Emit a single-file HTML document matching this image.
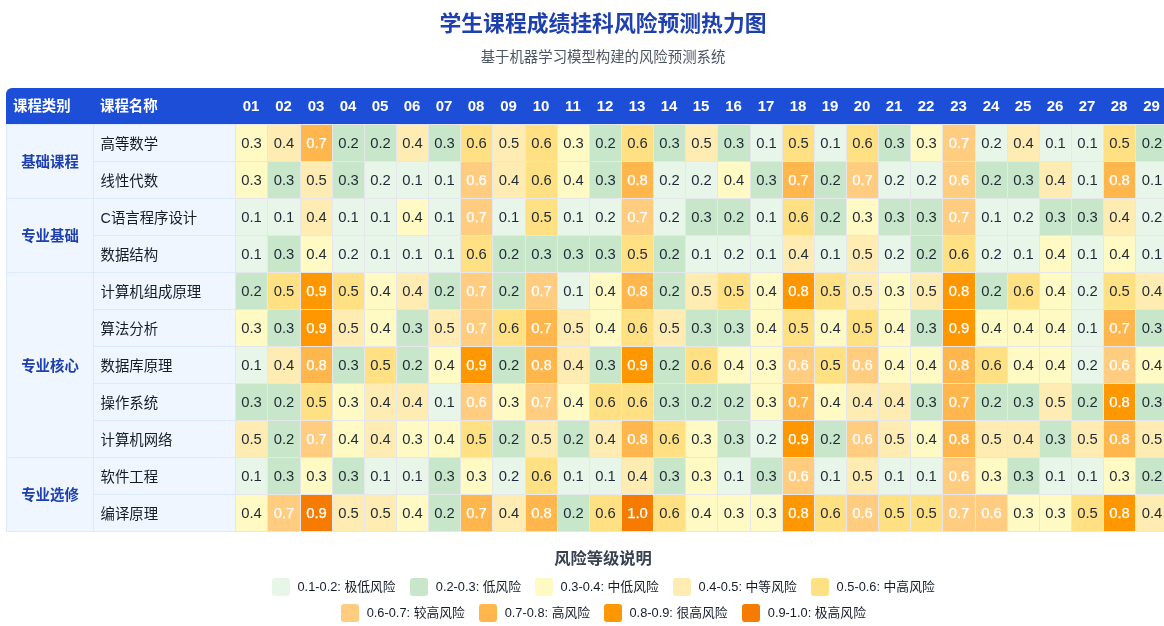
<!DOCTYPE html>
<html lang="zh-CN">
<head>
<meta charset="utf-8">
<title>学生课程成绩挂科风险预测热力图</title>
<style>
*{box-sizing:border-box;margin:0;padding:0}
html,body{width:1164px;height:626px;overflow:hidden;background:#fff}
body{position:relative;font-family:"Liberation Sans","Noto Sans CJK SC",sans-serif;color:#1f2937}
.abs{position:absolute}
h1{position:absolute;left:6px;width:1194px;top:9px;height:30px;line-height:30px;text-align:center;font-size:21.8px;font-weight:700;color:#1e40af;white-space:nowrap}
.sub{position:absolute;left:6px;width:1194px;top:47px;height:20px;line-height:20px;text-align:center;font-size:14.4px;color:#4b5563;white-space:nowrap}
.hd{position:absolute;left:6px;top:88px;width:1200px;height:36px;background:#1d4ed8;border-radius:6px 6px 0 0}
.th{position:absolute;top:88px;height:36px;line-height:36px;color:#fff;font-weight:700;white-space:nowrap}
.th.l{font-size:14.4px;padding-left:7px}
.th.n{font-size:15px;text-align:center;line-height:36px}
.cat{position:absolute;left:6px;width:87px;background:#eff6ff;border-left:1px solid #dbeafe;border-top:1px solid #dbeafe;color:#1e40af;font-weight:700;font-size:14.4px;display:flex;align-items:center;justify-content:center;white-space:nowrap;padding-bottom:2px}
.nm{position:absolute;left:93px;width:142px;height:37px;line-height:38px;overflow:hidden;background:#eff6ff;border-top:1px solid #dbeafe;border-left:1px solid #dbeafe;padding-left:6.5px;font-size:14.4px;color:#161c28;white-space:nowrap}
.c{position:absolute;width:32.14px;height:37px;line-height:36px;text-align:center;font-size:14.8px;color:#1f2937;border-left:1px solid #e5e7eb;border-top:1px solid #e5e7eb;white-space:nowrap}
.w{color:#fff;-webkit-text-stroke:0.25px #fff}
.bl{position:absolute;top:531px;height:1px}
.L1{background:#e8f5e9}.L2{background:#c8e6c9}.L3{background:#fff9c4}.L4{background:#ffecb3}.L5{background:#ffe082}
.L6{background:#ffcc80}.L7{background:#ffb74d}.L8{background:#ff9800}.L9{background:#f57c00}
.lt{position:absolute;left:6px;width:1194px;top:546px;height:24px;line-height:24px;text-align:center;font-size:16.3px;font-weight:700;color:#374151}
.sw{position:absolute;width:18px;height:18px;border-radius:3px}
.lb{position:absolute;height:18px;line-height:18px;font-size:12.8px;color:#161c28;white-space:nowrap}
</style>
</head>
<body>
<h1>学生课程成绩挂科风险预测热力图</h1>
<div class="sub">基于机器学习模型构建的风险预测系统</div>
<div class="hd"></div>

<div class="th l" style="left:6.0px">课程类别</div>
<div class="th l" style="left:93.0px">课程名称</div>
<div class="th n" style="left:235px;width:32px">01</div>
<div class="th n" style="left:267px;width:33px">02</div>
<div class="th n" style="left:300px;width:32px">03</div>
<div class="th n" style="left:332px;width:32px">04</div>
<div class="th n" style="left:364px;width:32px">05</div>
<div class="th n" style="left:396px;width:32px">06</div>
<div class="th n" style="left:428px;width:32px">07</div>
<div class="th n" style="left:460px;width:32px">08</div>
<div class="th n" style="left:492px;width:33px">09</div>
<div class="th n" style="left:525px;width:32px">10</div>
<div class="th n" style="left:557px;width:32px">11</div>
<div class="th n" style="left:589px;width:32px">12</div>
<div class="th n" style="left:621px;width:32px">13</div>
<div class="th n" style="left:653px;width:32px">14</div>
<div class="th n" style="left:685px;width:32px">15</div>
<div class="th n" style="left:717px;width:33px">16</div>
<div class="th n" style="left:750px;width:32px">17</div>
<div class="th n" style="left:782px;width:32px">18</div>
<div class="th n" style="left:814px;width:32px">19</div>
<div class="th n" style="left:846px;width:32px">20</div>
<div class="th n" style="left:878px;width:32px">21</div>
<div class="th n" style="left:910px;width:32px">22</div>
<div class="th n" style="left:942px;width:33px">23</div>
<div class="th n" style="left:975px;width:32px">24</div>
<div class="th n" style="left:1007px;width:32px">25</div>
<div class="th n" style="left:1039px;width:32px">26</div>
<div class="th n" style="left:1071px;width:32px">27</div>
<div class="th n" style="left:1103px;width:32px">28</div>
<div class="th n" style="left:1135px;width:33px">29</div>

<div class="cat" style="top:124px;height:74px">基础课程</div>
<div class="cat" style="top:198px;height:74px">专业基础</div>
<div class="cat" style="top:272px;height:185px">专业核心</div>
<div class="cat" style="top:457px;height:74px">专业选修</div>
<div class="nm" style="top:124px">高等数学</div>
<div class="c L3" style="left:235px;width:32px;top:124px">0.3</div>
<div class="c L4" style="left:267px;width:33px;top:124px">0.4</div>
<div class="c L7 w" style="left:300px;width:32px;top:124px">0.7</div>
<div class="c L2" style="left:332px;width:32px;top:124px">0.2</div>
<div class="c L2" style="left:364px;width:32px;top:124px">0.2</div>
<div class="c L4" style="left:396px;width:32px;top:124px">0.4</div>
<div class="c L2" style="left:428px;width:32px;top:124px">0.3</div>
<div class="c L5" style="left:460px;width:32px;top:124px">0.6</div>
<div class="c L4" style="left:492px;width:33px;top:124px">0.5</div>
<div class="c L5" style="left:525px;width:32px;top:124px">0.6</div>
<div class="c L3" style="left:557px;width:32px;top:124px">0.3</div>
<div class="c L2" style="left:589px;width:32px;top:124px">0.2</div>
<div class="c L5" style="left:621px;width:32px;top:124px">0.6</div>
<div class="c L2" style="left:653px;width:32px;top:124px">0.3</div>
<div class="c L4" style="left:685px;width:32px;top:124px">0.5</div>
<div class="c L2" style="left:717px;width:33px;top:124px">0.3</div>
<div class="c L1" style="left:750px;width:32px;top:124px">0.1</div>
<div class="c L5" style="left:782px;width:32px;top:124px">0.5</div>
<div class="c L1" style="left:814px;width:32px;top:124px">0.1</div>
<div class="c L5" style="left:846px;width:32px;top:124px">0.6</div>
<div class="c L2" style="left:878px;width:32px;top:124px">0.3</div>
<div class="c L3" style="left:910px;width:32px;top:124px">0.3</div>
<div class="c L6 w" style="left:942px;width:33px;top:124px">0.7</div>
<div class="c L1" style="left:975px;width:32px;top:124px">0.2</div>
<div class="c L4" style="left:1007px;width:32px;top:124px">0.4</div>
<div class="c L1" style="left:1039px;width:32px;top:124px">0.1</div>
<div class="c L1" style="left:1071px;width:32px;top:124px">0.1</div>
<div class="c L5" style="left:1103px;width:32px;top:124px">0.5</div>
<div class="c L2" style="left:1135px;width:33px;top:124px">0.2</div>
<div class="nm" style="top:161px">线性代数</div>
<div class="c L3" style="left:235px;width:32px;top:161px">0.3</div>
<div class="c L2" style="left:267px;width:33px;top:161px">0.3</div>
<div class="c L4" style="left:300px;width:32px;top:161px">0.5</div>
<div class="c L2" style="left:332px;width:32px;top:161px">0.3</div>
<div class="c L1" style="left:364px;width:32px;top:161px">0.2</div>
<div class="c L1" style="left:396px;width:32px;top:161px">0.1</div>
<div class="c L1" style="left:428px;width:32px;top:161px">0.1</div>
<div class="c L6 w" style="left:460px;width:32px;top:161px">0.6</div>
<div class="c L4" style="left:492px;width:33px;top:161px">0.4</div>
<div class="c L5" style="left:525px;width:32px;top:161px">0.6</div>
<div class="c L3" style="left:557px;width:32px;top:161px">0.4</div>
<div class="c L2" style="left:589px;width:32px;top:161px">0.3</div>
<div class="c L7 w" style="left:621px;width:32px;top:161px">0.8</div>
<div class="c L1" style="left:653px;width:32px;top:161px">0.2</div>
<div class="c L1" style="left:685px;width:32px;top:161px">0.2</div>
<div class="c L3" style="left:717px;width:33px;top:161px">0.4</div>
<div class="c L2" style="left:750px;width:32px;top:161px">0.3</div>
<div class="c L7 w" style="left:782px;width:32px;top:161px">0.7</div>
<div class="c L2" style="left:814px;width:32px;top:161px">0.2</div>
<div class="c L6 w" style="left:846px;width:32px;top:161px">0.7</div>
<div class="c L1" style="left:878px;width:32px;top:161px">0.2</div>
<div class="c L1" style="left:910px;width:32px;top:161px">0.2</div>
<div class="c L6 w" style="left:942px;width:33px;top:161px">0.6</div>
<div class="c L2" style="left:975px;width:32px;top:161px">0.2</div>
<div class="c L2" style="left:1007px;width:32px;top:161px">0.3</div>
<div class="c L4" style="left:1039px;width:32px;top:161px">0.4</div>
<div class="c L1" style="left:1071px;width:32px;top:161px">0.1</div>
<div class="c L7 w" style="left:1103px;width:32px;top:161px">0.8</div>
<div class="c L1" style="left:1135px;width:33px;top:161px">0.1</div>
<div class="nm" style="top:198px">C语言程序设计</div>
<div class="c L1" style="left:235px;width:32px;top:198px">0.1</div>
<div class="c L1" style="left:267px;width:33px;top:198px">0.1</div>
<div class="c L4" style="left:300px;width:32px;top:198px">0.4</div>
<div class="c L1" style="left:332px;width:32px;top:198px">0.1</div>
<div class="c L1" style="left:364px;width:32px;top:198px">0.1</div>
<div class="c L3" style="left:396px;width:32px;top:198px">0.4</div>
<div class="c L1" style="left:428px;width:32px;top:198px">0.1</div>
<div class="c L6 w" style="left:460px;width:32px;top:198px">0.7</div>
<div class="c L1" style="left:492px;width:33px;top:198px">0.1</div>
<div class="c L5" style="left:525px;width:32px;top:198px">0.5</div>
<div class="c L1" style="left:557px;width:32px;top:198px">0.1</div>
<div class="c L1" style="left:589px;width:32px;top:198px">0.2</div>
<div class="c L6 w" style="left:621px;width:32px;top:198px">0.7</div>
<div class="c L1" style="left:653px;width:32px;top:198px">0.2</div>
<div class="c L2" style="left:685px;width:32px;top:198px">0.3</div>
<div class="c L2" style="left:717px;width:33px;top:198px">0.2</div>
<div class="c L1" style="left:750px;width:32px;top:198px">0.1</div>
<div class="c L5" style="left:782px;width:32px;top:198px">0.6</div>
<div class="c L2" style="left:814px;width:32px;top:198px">0.2</div>
<div class="c L3" style="left:846px;width:32px;top:198px">0.3</div>
<div class="c L2" style="left:878px;width:32px;top:198px">0.3</div>
<div class="c L2" style="left:910px;width:32px;top:198px">0.3</div>
<div class="c L6 w" style="left:942px;width:33px;top:198px">0.7</div>
<div class="c L1" style="left:975px;width:32px;top:198px">0.1</div>
<div class="c L1" style="left:1007px;width:32px;top:198px">0.2</div>
<div class="c L2" style="left:1039px;width:32px;top:198px">0.3</div>
<div class="c L2" style="left:1071px;width:32px;top:198px">0.3</div>
<div class="c L4" style="left:1103px;width:32px;top:198px">0.4</div>
<div class="c L1" style="left:1135px;width:33px;top:198px">0.2</div>
<div class="nm" style="top:235px">数据结构</div>
<div class="c L1" style="left:235px;width:32px;top:235px">0.1</div>
<div class="c L2" style="left:267px;width:33px;top:235px">0.3</div>
<div class="c L3" style="left:300px;width:32px;top:235px">0.4</div>
<div class="c L1" style="left:332px;width:32px;top:235px">0.2</div>
<div class="c L1" style="left:364px;width:32px;top:235px">0.1</div>
<div class="c L1" style="left:396px;width:32px;top:235px">0.1</div>
<div class="c L1" style="left:428px;width:32px;top:235px">0.1</div>
<div class="c L5" style="left:460px;width:32px;top:235px">0.6</div>
<div class="c L2" style="left:492px;width:33px;top:235px">0.2</div>
<div class="c L2" style="left:525px;width:32px;top:235px">0.3</div>
<div class="c L2" style="left:557px;width:32px;top:235px">0.3</div>
<div class="c L2" style="left:589px;width:32px;top:235px">0.3</div>
<div class="c L5" style="left:621px;width:32px;top:235px">0.5</div>
<div class="c L2" style="left:653px;width:32px;top:235px">0.2</div>
<div class="c L1" style="left:685px;width:32px;top:235px">0.1</div>
<div class="c L1" style="left:717px;width:33px;top:235px">0.2</div>
<div class="c L1" style="left:750px;width:32px;top:235px">0.1</div>
<div class="c L4" style="left:782px;width:32px;top:235px">0.4</div>
<div class="c L1" style="left:814px;width:32px;top:235px">0.1</div>
<div class="c L4" style="left:846px;width:32px;top:235px">0.5</div>
<div class="c L1" style="left:878px;width:32px;top:235px">0.2</div>
<div class="c L2" style="left:910px;width:32px;top:235px">0.2</div>
<div class="c L5" style="left:942px;width:33px;top:235px">0.6</div>
<div class="c L1" style="left:975px;width:32px;top:235px">0.2</div>
<div class="c L1" style="left:1007px;width:32px;top:235px">0.1</div>
<div class="c L3" style="left:1039px;width:32px;top:235px">0.4</div>
<div class="c L1" style="left:1071px;width:32px;top:235px">0.1</div>
<div class="c L3" style="left:1103px;width:32px;top:235px">0.4</div>
<div class="c L1" style="left:1135px;width:33px;top:235px">0.1</div>
<div class="nm" style="top:272px">计算机组成原理</div>
<div class="c L2" style="left:235px;width:32px;top:272px">0.2</div>
<div class="c L5" style="left:267px;width:33px;top:272px">0.5</div>
<div class="c L8 w" style="left:300px;width:32px;top:272px">0.9</div>
<div class="c L5" style="left:332px;width:32px;top:272px">0.5</div>
<div class="c L3" style="left:364px;width:32px;top:272px">0.4</div>
<div class="c L4" style="left:396px;width:32px;top:272px">0.4</div>
<div class="c L2" style="left:428px;width:32px;top:272px">0.2</div>
<div class="c L6 w" style="left:460px;width:32px;top:272px">0.7</div>
<div class="c L2" style="left:492px;width:33px;top:272px">0.2</div>
<div class="c L6 w" style="left:525px;width:32px;top:272px">0.7</div>
<div class="c L1" style="left:557px;width:32px;top:272px">0.1</div>
<div class="c L3" style="left:589px;width:32px;top:272px">0.4</div>
<div class="c L7 w" style="left:621px;width:32px;top:272px">0.8</div>
<div class="c L2" style="left:653px;width:32px;top:272px">0.2</div>
<div class="c L4" style="left:685px;width:32px;top:272px">0.5</div>
<div class="c L5" style="left:717px;width:33px;top:272px">0.5</div>
<div class="c L3" style="left:750px;width:32px;top:272px">0.4</div>
<div class="c L8 w" style="left:782px;width:32px;top:272px">0.8</div>
<div class="c L5" style="left:814px;width:32px;top:272px">0.5</div>
<div class="c L4" style="left:846px;width:32px;top:272px">0.5</div>
<div class="c L3" style="left:878px;width:32px;top:272px">0.3</div>
<div class="c L4" style="left:910px;width:32px;top:272px">0.5</div>
<div class="c L8 w" style="left:942px;width:33px;top:272px">0.8</div>
<div class="c L2" style="left:975px;width:32px;top:272px">0.2</div>
<div class="c L5" style="left:1007px;width:32px;top:272px">0.6</div>
<div class="c L3" style="left:1039px;width:32px;top:272px">0.4</div>
<div class="c L1" style="left:1071px;width:32px;top:272px">0.2</div>
<div class="c L5" style="left:1103px;width:32px;top:272px">0.5</div>
<div class="c L4" style="left:1135px;width:33px;top:272px">0.4</div>
<div class="nm" style="top:309px">算法分析</div>
<div class="c L3" style="left:235px;width:32px;top:309px">0.3</div>
<div class="c L2" style="left:267px;width:33px;top:309px">0.3</div>
<div class="c L8 w" style="left:300px;width:32px;top:309px">0.9</div>
<div class="c L4" style="left:332px;width:32px;top:309px">0.5</div>
<div class="c L3" style="left:364px;width:32px;top:309px">0.4</div>
<div class="c L2" style="left:396px;width:32px;top:309px">0.3</div>
<div class="c L4" style="left:428px;width:32px;top:309px">0.5</div>
<div class="c L6 w" style="left:460px;width:32px;top:309px">0.7</div>
<div class="c L5" style="left:492px;width:33px;top:309px">0.6</div>
<div class="c L7 w" style="left:525px;width:32px;top:309px">0.7</div>
<div class="c L4" style="left:557px;width:32px;top:309px">0.5</div>
<div class="c L3" style="left:589px;width:32px;top:309px">0.4</div>
<div class="c L5" style="left:621px;width:32px;top:309px">0.6</div>
<div class="c L4" style="left:653px;width:32px;top:309px">0.5</div>
<div class="c L2" style="left:685px;width:32px;top:309px">0.3</div>
<div class="c L2" style="left:717px;width:33px;top:309px">0.3</div>
<div class="c L3" style="left:750px;width:32px;top:309px">0.4</div>
<div class="c L5" style="left:782px;width:32px;top:309px">0.5</div>
<div class="c L3" style="left:814px;width:32px;top:309px">0.4</div>
<div class="c L5" style="left:846px;width:32px;top:309px">0.5</div>
<div class="c L3" style="left:878px;width:32px;top:309px">0.4</div>
<div class="c L2" style="left:910px;width:32px;top:309px">0.3</div>
<div class="c L8 w" style="left:942px;width:33px;top:309px">0.9</div>
<div class="c L3" style="left:975px;width:32px;top:309px">0.4</div>
<div class="c L3" style="left:1007px;width:32px;top:309px">0.4</div>
<div class="c L3" style="left:1039px;width:32px;top:309px">0.4</div>
<div class="c L1" style="left:1071px;width:32px;top:309px">0.1</div>
<div class="c L7 w" style="left:1103px;width:32px;top:309px">0.7</div>
<div class="c L2" style="left:1135px;width:33px;top:309px">0.3</div>
<div class="nm" style="top:346px">数据库原理</div>
<div class="c L1" style="left:235px;width:32px;top:346px">0.1</div>
<div class="c L4" style="left:267px;width:33px;top:346px">0.4</div>
<div class="c L7 w" style="left:300px;width:32px;top:346px">0.8</div>
<div class="c L2" style="left:332px;width:32px;top:346px">0.3</div>
<div class="c L5" style="left:364px;width:32px;top:346px">0.5</div>
<div class="c L2" style="left:396px;width:32px;top:346px">0.2</div>
<div class="c L3" style="left:428px;width:32px;top:346px">0.4</div>
<div class="c L8 w" style="left:460px;width:32px;top:346px">0.9</div>
<div class="c L2" style="left:492px;width:33px;top:346px">0.2</div>
<div class="c L7 w" style="left:525px;width:32px;top:346px">0.8</div>
<div class="c L4" style="left:557px;width:32px;top:346px">0.4</div>
<div class="c L2" style="left:589px;width:32px;top:346px">0.3</div>
<div class="c L8 w" style="left:621px;width:32px;top:346px">0.9</div>
<div class="c L2" style="left:653px;width:32px;top:346px">0.2</div>
<div class="c L5" style="left:685px;width:32px;top:346px">0.6</div>
<div class="c L3" style="left:717px;width:33px;top:346px">0.4</div>
<div class="c L3" style="left:750px;width:32px;top:346px">0.3</div>
<div class="c L6 w" style="left:782px;width:32px;top:346px">0.6</div>
<div class="c L5" style="left:814px;width:32px;top:346px">0.5</div>
<div class="c L6 w" style="left:846px;width:32px;top:346px">0.6</div>
<div class="c L3" style="left:878px;width:32px;top:346px">0.4</div>
<div class="c L3" style="left:910px;width:32px;top:346px">0.4</div>
<div class="c L7 w" style="left:942px;width:33px;top:346px">0.8</div>
<div class="c L5" style="left:975px;width:32px;top:346px">0.6</div>
<div class="c L3" style="left:1007px;width:32px;top:346px">0.4</div>
<div class="c L3" style="left:1039px;width:32px;top:346px">0.4</div>
<div class="c L1" style="left:1071px;width:32px;top:346px">0.2</div>
<div class="c L6 w" style="left:1103px;width:32px;top:346px">0.6</div>
<div class="c L3" style="left:1135px;width:33px;top:346px">0.4</div>
<div class="nm" style="top:383px">操作系统</div>
<div class="c L2" style="left:235px;width:32px;top:383px">0.3</div>
<div class="c L2" style="left:267px;width:33px;top:383px">0.2</div>
<div class="c L5" style="left:300px;width:32px;top:383px">0.5</div>
<div class="c L3" style="left:332px;width:32px;top:383px">0.3</div>
<div class="c L4" style="left:364px;width:32px;top:383px">0.4</div>
<div class="c L4" style="left:396px;width:32px;top:383px">0.4</div>
<div class="c L1" style="left:428px;width:32px;top:383px">0.1</div>
<div class="c L6 w" style="left:460px;width:32px;top:383px">0.6</div>
<div class="c L3" style="left:492px;width:33px;top:383px">0.3</div>
<div class="c L6 w" style="left:525px;width:32px;top:383px">0.7</div>
<div class="c L3" style="left:557px;width:32px;top:383px">0.4</div>
<div class="c L5" style="left:589px;width:32px;top:383px">0.6</div>
<div class="c L5" style="left:621px;width:32px;top:383px">0.6</div>
<div class="c L2" style="left:653px;width:32px;top:383px">0.3</div>
<div class="c L2" style="left:685px;width:32px;top:383px">0.2</div>
<div class="c L2" style="left:717px;width:33px;top:383px">0.2</div>
<div class="c L3" style="left:750px;width:32px;top:383px">0.3</div>
<div class="c L7 w" style="left:782px;width:32px;top:383px">0.7</div>
<div class="c L3" style="left:814px;width:32px;top:383px">0.4</div>
<div class="c L4" style="left:846px;width:32px;top:383px">0.4</div>
<div class="c L4" style="left:878px;width:32px;top:383px">0.4</div>
<div class="c L2" style="left:910px;width:32px;top:383px">0.3</div>
<div class="c L7 w" style="left:942px;width:33px;top:383px">0.7</div>
<div class="c L2" style="left:975px;width:32px;top:383px">0.2</div>
<div class="c L2" style="left:1007px;width:32px;top:383px">0.3</div>
<div class="c L4" style="left:1039px;width:32px;top:383px">0.5</div>
<div class="c L2" style="left:1071px;width:32px;top:383px">0.2</div>
<div class="c L8 w" style="left:1103px;width:32px;top:383px">0.8</div>
<div class="c L2" style="left:1135px;width:33px;top:383px">0.3</div>
<div class="nm" style="top:420px">计算机网络</div>
<div class="c L4" style="left:235px;width:32px;top:420px">0.5</div>
<div class="c L2" style="left:267px;width:33px;top:420px">0.2</div>
<div class="c L6 w" style="left:300px;width:32px;top:420px">0.7</div>
<div class="c L3" style="left:332px;width:32px;top:420px">0.4</div>
<div class="c L4" style="left:364px;width:32px;top:420px">0.4</div>
<div class="c L3" style="left:396px;width:32px;top:420px">0.3</div>
<div class="c L3" style="left:428px;width:32px;top:420px">0.4</div>
<div class="c L5" style="left:460px;width:32px;top:420px">0.5</div>
<div class="c L2" style="left:492px;width:33px;top:420px">0.2</div>
<div class="c L4" style="left:525px;width:32px;top:420px">0.5</div>
<div class="c L2" style="left:557px;width:32px;top:420px">0.2</div>
<div class="c L4" style="left:589px;width:32px;top:420px">0.4</div>
<div class="c L7 w" style="left:621px;width:32px;top:420px">0.8</div>
<div class="c L5" style="left:653px;width:32px;top:420px">0.6</div>
<div class="c L3" style="left:685px;width:32px;top:420px">0.3</div>
<div class="c L2" style="left:717px;width:33px;top:420px">0.3</div>
<div class="c L1" style="left:750px;width:32px;top:420px">0.2</div>
<div class="c L8 w" style="left:782px;width:32px;top:420px">0.9</div>
<div class="c L2" style="left:814px;width:32px;top:420px">0.2</div>
<div class="c L6 w" style="left:846px;width:32px;top:420px">0.6</div>
<div class="c L4" style="left:878px;width:32px;top:420px">0.5</div>
<div class="c L3" style="left:910px;width:32px;top:420px">0.4</div>
<div class="c L7 w" style="left:942px;width:33px;top:420px">0.8</div>
<div class="c L4" style="left:975px;width:32px;top:420px">0.5</div>
<div class="c L4" style="left:1007px;width:32px;top:420px">0.4</div>
<div class="c L2" style="left:1039px;width:32px;top:420px">0.3</div>
<div class="c L4" style="left:1071px;width:32px;top:420px">0.5</div>
<div class="c L7 w" style="left:1103px;width:32px;top:420px">0.8</div>
<div class="c L4" style="left:1135px;width:33px;top:420px">0.5</div>
<div class="nm" style="top:457px">软件工程</div>
<div class="c L1" style="left:235px;width:32px;top:457px">0.1</div>
<div class="c L2" style="left:267px;width:33px;top:457px">0.3</div>
<div class="c L3" style="left:300px;width:32px;top:457px">0.3</div>
<div class="c L2" style="left:332px;width:32px;top:457px">0.3</div>
<div class="c L1" style="left:364px;width:32px;top:457px">0.1</div>
<div class="c L1" style="left:396px;width:32px;top:457px">0.1</div>
<div class="c L2" style="left:428px;width:32px;top:457px">0.3</div>
<div class="c L3" style="left:460px;width:32px;top:457px">0.3</div>
<div class="c L1" style="left:492px;width:33px;top:457px">0.2</div>
<div class="c L5" style="left:525px;width:32px;top:457px">0.6</div>
<div class="c L1" style="left:557px;width:32px;top:457px">0.1</div>
<div class="c L1" style="left:589px;width:32px;top:457px">0.1</div>
<div class="c L4" style="left:621px;width:32px;top:457px">0.4</div>
<div class="c L2" style="left:653px;width:32px;top:457px">0.3</div>
<div class="c L3" style="left:685px;width:32px;top:457px">0.3</div>
<div class="c L1" style="left:717px;width:33px;top:457px">0.1</div>
<div class="c L2" style="left:750px;width:32px;top:457px">0.3</div>
<div class="c L6 w" style="left:782px;width:32px;top:457px">0.6</div>
<div class="c L1" style="left:814px;width:32px;top:457px">0.1</div>
<div class="c L4" style="left:846px;width:32px;top:457px">0.5</div>
<div class="c L1" style="left:878px;width:32px;top:457px">0.1</div>
<div class="c L1" style="left:910px;width:32px;top:457px">0.1</div>
<div class="c L6 w" style="left:942px;width:33px;top:457px">0.6</div>
<div class="c L3" style="left:975px;width:32px;top:457px">0.3</div>
<div class="c L2" style="left:1007px;width:32px;top:457px">0.3</div>
<div class="c L1" style="left:1039px;width:32px;top:457px">0.1</div>
<div class="c L1" style="left:1071px;width:32px;top:457px">0.1</div>
<div class="c L3" style="left:1103px;width:32px;top:457px">0.3</div>
<div class="c L2" style="left:1135px;width:33px;top:457px">0.2</div>
<div class="nm" style="top:494px">编译原理</div>
<div class="c L3" style="left:235px;width:32px;top:494px">0.4</div>
<div class="c L6 w" style="left:267px;width:33px;top:494px">0.7</div>
<div class="c L9 w" style="left:300px;width:32px;top:494px">0.9</div>
<div class="c L4" style="left:332px;width:32px;top:494px">0.5</div>
<div class="c L4" style="left:364px;width:32px;top:494px">0.5</div>
<div class="c L3" style="left:396px;width:32px;top:494px">0.4</div>
<div class="c L2" style="left:428px;width:32px;top:494px">0.2</div>
<div class="c L7 w" style="left:460px;width:32px;top:494px">0.7</div>
<div class="c L4" style="left:492px;width:33px;top:494px">0.4</div>
<div class="c L7 w" style="left:525px;width:32px;top:494px">0.8</div>
<div class="c L2" style="left:557px;width:32px;top:494px">0.2</div>
<div class="c L5" style="left:589px;width:32px;top:494px">0.6</div>
<div class="c L9 w" style="left:621px;width:32px;top:494px">1.0</div>
<div class="c L5" style="left:653px;width:32px;top:494px">0.6</div>
<div class="c L3" style="left:685px;width:32px;top:494px">0.4</div>
<div class="c L3" style="left:717px;width:33px;top:494px">0.3</div>
<div class="c L3" style="left:750px;width:32px;top:494px">0.3</div>
<div class="c L8 w" style="left:782px;width:32px;top:494px">0.8</div>
<div class="c L5" style="left:814px;width:32px;top:494px">0.6</div>
<div class="c L6 w" style="left:846px;width:32px;top:494px">0.6</div>
<div class="c L5" style="left:878px;width:32px;top:494px">0.5</div>
<div class="c L5" style="left:910px;width:32px;top:494px">0.5</div>
<div class="c L6 w" style="left:942px;width:33px;top:494px">0.7</div>
<div class="c L6 w" style="left:975px;width:32px;top:494px">0.6</div>
<div class="c L3" style="left:1007px;width:32px;top:494px">0.3</div>
<div class="c L3" style="left:1039px;width:32px;top:494px">0.3</div>
<div class="c L5" style="left:1071px;width:32px;top:494px">0.5</div>
<div class="c L8 w" style="left:1103px;width:32px;top:494px">0.8</div>
<div class="c L4" style="left:1135px;width:33px;top:494px">0.4</div>

<div class="bl" style="left:6px;width:229px;background:#dbeafe"></div><div class="bl" style="left:235px;width:940px;background:#e5e7eb"></div>
<div class="lt">风险等级说明</div>
<div class="sw L1" style="left:272.0px;top:578px"></div><div class="lb" style="left:297.5px;top:578px">0.1-0.2: 极低风险</div>
<div class="sw L2" style="left:410.3px;top:578px"></div><div class="lb" style="left:435.8px;top:578px">0.2-0.3: 低风险</div>
<div class="sw L3" style="left:535.1px;top:578px"></div><div class="lb" style="left:560.6px;top:578px">0.3-0.4: 中低风险</div>
<div class="sw L4" style="left:673.1px;top:578px"></div><div class="lb" style="left:698.6px;top:578px">0.4-0.5: 中等风险</div>
<div class="sw L5" style="left:811.1px;top:578px"></div><div class="lb" style="left:836.6px;top:578px">0.5-0.6: 中高风险</div>
<div class="sw L6" style="left:341.2px;top:604px"></div><div class="lb" style="left:366.7px;top:604px">0.6-0.7: 较高风险</div>
<div class="sw L7" style="left:479.2px;top:604px"></div><div class="lb" style="left:504.7px;top:604px">0.7-0.8: 高风险</div>
<div class="sw L8" style="left:604.0px;top:604px"></div><div class="lb" style="left:629.5px;top:604px">0.8-0.9: 很高风险</div>
<div class="sw L9" style="left:742.3px;top:604px"></div><div class="lb" style="left:767.8px;top:604px">0.9-1.0: 极高风险</div>
</body>
</html>
